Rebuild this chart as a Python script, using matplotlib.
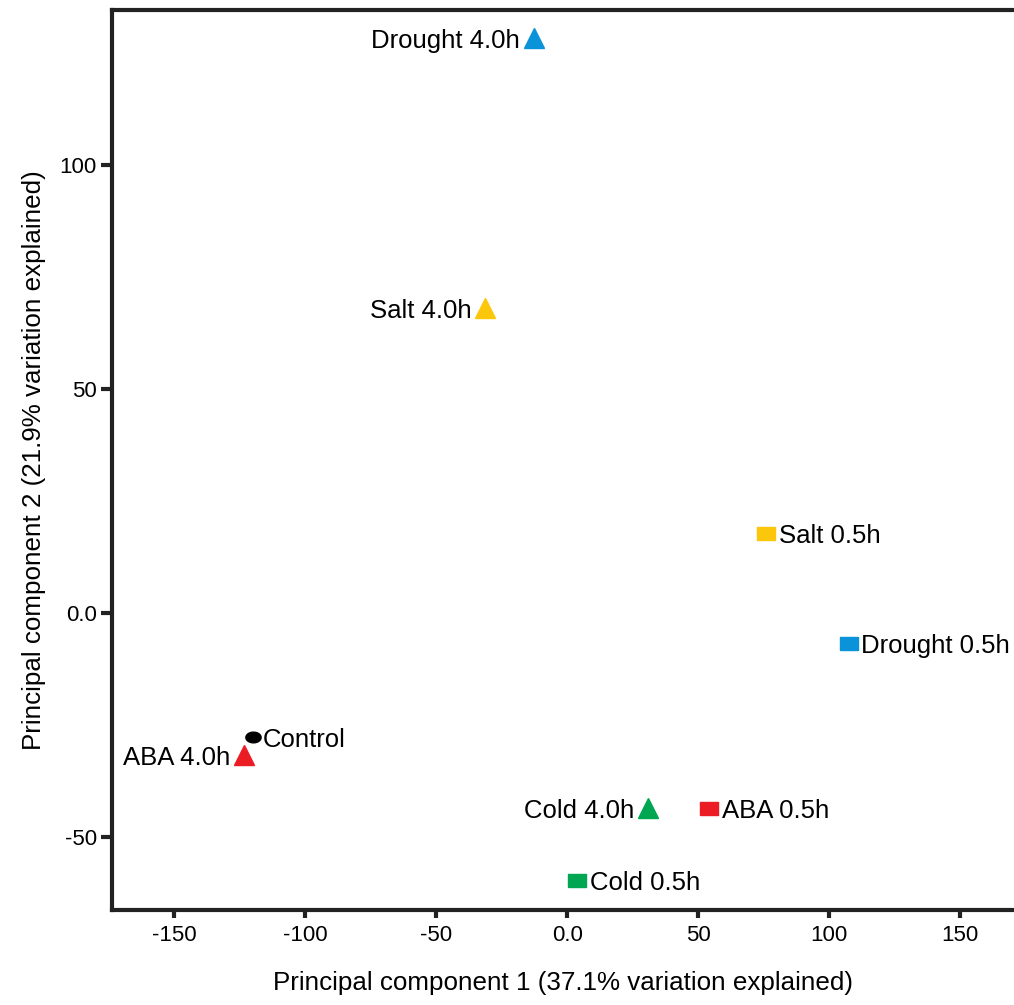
import matplotlib
matplotlib.use('Agg')
import matplotlib.pyplot as plt
import numpy as np

plt.rcParams['font.family'] = ['Liberation Sans', 'DejaVu Sans']

# sample scores on the first two principal components
samples = ['Drought 4.0h', 'Salt 4.0h', 'Salt 0.5h', 'Drought 0.5h', 'Control',
           'ABA 4.0h', 'Cold 4.0h', 'ABA 0.5h', 'Cold 0.5h']
pc1 = [-12.6, -31.3, 76.0, 107.6, -119.8, -123.3, 30.9, 54.2, 3.8]
pc2 = [128.3, 68.1, 17.9, -6.7, -27.7, -31.7, -43.5, -43.5, -59.6]
kinds = ['tri', 'tri', 'sq', 'sq', 'ctrl', 'tri', 'tri', 'sq', 'sq']
colors = ['#0a93d8', '#fcc70a', '#fcc70a', '#0a93d8', '#000000',
          '#ec1c24', '#00a651', '#ec1c24', '#00a651']
label_side = ['left', 'left', 'right', 'right', 'right',
              'left', 'left', 'right', 'right']

xticks = [-150, -100, -50, 0, 50, 100, 150]
xticklabels = ['-150', '-100', '-50', '0.0', '50', '100', '150']
yticks = [-50, 0, 50, 100]
yticklabels = ['-50', '0.0', '50', '100']

t = np.linspace(0, 2 * np.pi, 40)
ellipse = list(zip(np.cos(t), 0.7 * np.sin(t)))
rect = [(-1, -0.72), (1, -0.72), (1, 0.72), (-1, 0.72), (-1, -0.72)]
markers = {'tri': ('^', 14), 'sq': (rect, 13), 'ctrl': (ellipse, 11)}

fig = plt.figure(figsize=(10.14, 10.05), dpi=100)
ax = fig.add_axes([0.1105, 0.0945, 0.8895, 0.8955])

for x, y, name, k, c, side in zip(pc1, pc2, samples, kinds, colors, label_side):
    m, ms = markers[k]
    ax.plot(x, y, marker=m, ms=ms, color=c, mec=c, ls='none')
    if side == 'left':
        dx = -10
    elif k == 'ctrl':
        dx = 7
    else:
        dx = 9
    ax.annotate(name, (x, y), xytext=(dx, -2), textcoords='offset points',
                ha='right' if side == 'left' else 'left', va='center',
                fontsize=18.5)

ax.set_xlim(-173.7, 170.6)
ax.set_ylim(-66.3, 134.6)
ax.set_xticks(xticks)
ax.set_xticklabels(xticklabels)
ax.set_yticks(yticks)
ax.set_yticklabels(yticklabels)
ax.tick_params(direction='out', width=3, labelsize=16, color='#222222')
ax.tick_params(axis='x', length=6, pad=5)
ax.tick_params(axis='y', length=8, pad=3)
for s in ['left', 'bottom', 'top']:
    ax.spines[s].set_linewidth(3)
    ax.spines[s].set_color('#222222')
ax.spines['right'].set_visible(False)

ax.set_xlabel('Principal component 1 (37.1% variation explained)', fontsize=18.7, labelpad=18)
ax.set_ylabel('Principal component 2 (21.9% variation explained)', fontsize=18.7, labelpad=10)

fig.savefig('out.png', dpi=100)
